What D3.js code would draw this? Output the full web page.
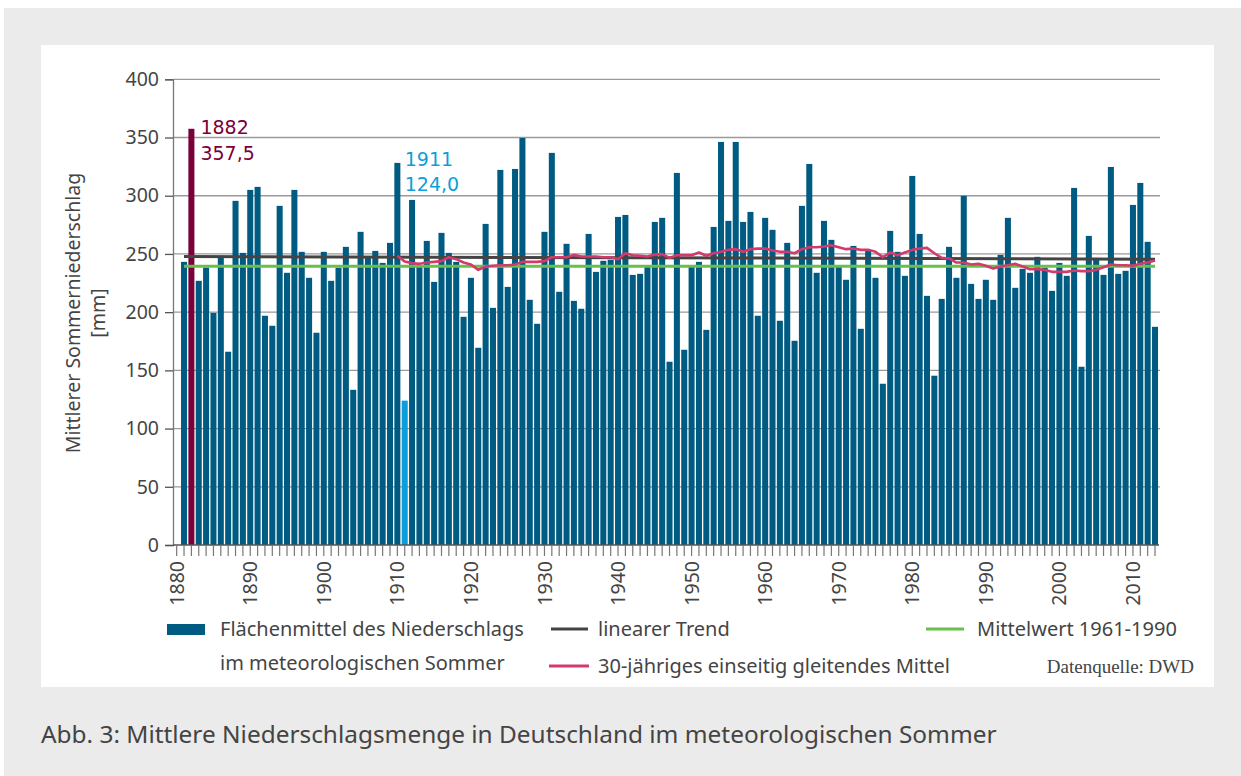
<!DOCTYPE html>
<html><head><meta charset="utf-8">
<script src="https://cdn.jsdelivr.net/npm/d3@7"></script>
<style>
html,body{margin:0;padding:0;background:#fff;}
svg{display:block;}
</style></head>
<body>
<svg id="chart" width="1241" height="776"></svg>
<script>
// ---- Data ----
const firstYear = 1881;
const precip = [
243.2,357.5,226.9,238.3,199.4,246.9,166.0,295.6,250.9,305.0,
307.6,196.9,188.3,291.3,233.8,305.0,251.8,229.5,182.3,251.8,
226.9,238.1,256.1,133.3,269.0,246.6,252.6,242.3,259.5,328.2,
124.0,296.4,240.0,261.2,226.0,268.1,250.9,243.2,196.0,229.5,
169.4,275.8,203.7,322.2,221.7,323.0,349.6,210.6,190.0,269.0,
336.8,217.5,258.7,209.7,202.9,267.2,234.6,244.1,245.0,281.8,
283.5,232.0,232.9,238.9,277.5,281.0,157.4,319.6,167.7,240.0,
243.2,184.8,273.2,346.2,278.4,346.2,277.5,286.1,196.9,281.0,
270.7,192.6,259.5,175.4,291.3,327.3,233.8,278.4,262.1,240.0,
227.8,256.9,185.7,252.6,229.5,138.5,269.8,251.8,231.2,317.0,
267.2,214.0,145.4,211.4,256.1,229.5,299.9,224.3,211.4,227.8,
210.6,249.2,281.0,220.9,237.2,233.8,247.5,238.1,218.3,242.3,
231.2,306.7,153.1,265.5,246.6,232.0,324.7,232.9,235.5,292.1,
311.0,260.4,187.4
];
const maFirstYear = 1910;
const movingAvg = [
248.4,243.5,242.1,241.5,242.6,243.2,243.8,247.2,245.5,242.6,
240.9,236.3,239.2,239.8,240.3,240.3,240.9,243.2,243.2,243.2,
243.8,247.2,247.2,247.2,249.2,247.8,247.8,247.8,247.2,247.2,
245.5,250.6,248.9,248.4,247.8,249.5,249.8,246.6,248.9,248.9,
248.9,251.2,248.4,250.6,251.8,253.5,254.1,251.8,254.1,254.6,
254.6,252.9,251.8,251.8,250.6,254.1,255.8,255.8,256.4,257.5,
255.8,254.1,254.6,253.5,253.5,251.8,247.2,251.2,248.9,251.2,
253.5,254.6,255.2,250.6,246.6,246.1,242.6,242.6,240.9,241.5,
239.8,237.5,239.2,240.3,241.5,239.2,236.9,236.9,236.3,234.6,
234.6,234.6,235.8,235.2,235.2,236.3,238.6,240.9,240.3,240.3,
239.8,241.5,242.6,244.3
];
const trendYears = [1881, 2013];
const trendValues = [247.8, 245.5];
const meanValue = 239.5;
const yTicks = [0,50,100,150,200,250,300,350,400];
const highlightMax = {year:1882, label:"1882", value:"357,5"};
const highlightMin = {year:1911, label:"1911", value:"124,0"};
const yTitle = ["Mittlerer Sommerniederschlag", "[mm]"];
const legendBars = ["Flächenmittel des Niederschlags", "im meteorologischen Sommer"];
const legendTrend = "linearer Trend";
const legendMA = "30-jähriges einseitig gleitendes Mittel";
const legendMean = "Mittelwert 1961-1990";
const sourceText = "Datenquelle: DWD";
const caption = "Abb. 3: Mittlere Niederschlagsmenge in Deutschland im meteorologischen Sommer";

// ---- Drawing ----
const FONT = "'Noto Sans', 'Open Sans', sans-serif";
const C = {bar:"#005b82", max:"#7a0039", min:"#0a9fdb", trend:"#444444", mean:"#6abf4b", ma:"#d33a6c", text:"#444444", grid:"#9a9a9a"};
const svg = d3.select("#chart");

svg.append("rect").attr("x",4).attr("y",8).attr("width",1237).attr("height",768).attr("fill","#ebebeb");
svg.append("rect").attr("x",41).attr("y",45).attr("width",1173).attr("height",642).attr("fill","#ffffff");

const years = d3.range(1880, firstYear + precip.length);
const data = precip.map((v,i)=>({year:firstYear+i, value:v}));

const x = d3.scaleBand().domain(years).range([173, 1158.7]).paddingInner(0.18).paddingOuter(0.09);
const y = d3.scaleLinear().domain([0,400]).range([545, 79.3]);
const cx = yr => x(yr) + x.bandwidth()/2;

// gridlines
svg.append("g").selectAll("line").data(yTicks.filter(t=>t>0)).join("line")
  .attr("x1",173).attr("x2",1160).attr("y1",d=>y(d)).attr("y2",d=>y(d))
  .attr("stroke",C.grid).attr("stroke-width",1.3);

// y axis
const yAxis = d3.axisLeft(y).tickValues(yTicks).tickSize(8).tickPadding(6).tickFormat(d3.format("d"));
const gy = svg.append("g").attr("transform","translate(173,0)").call(yAxis);
gy.select(".domain").attr("stroke","#777").attr("stroke-width",1.3);
gy.selectAll(".tick line").attr("stroke","#555").attr("stroke-width",1.3);
gy.selectAll("text").attr("font-family",FONT).attr("font-size",19.5).attr("fill",C.text);

// bars
svg.append("g").selectAll("rect").data(data).join("rect")
  .attr("x",d=>x(d.year)).attr("width",x.bandwidth())
  .attr("y",d=>y(d.value)).attr("height",d=>y(0)-y(d.value))
  .attr("fill",d=>d.year===highlightMax.year?C.max:(d.year===highlightMin.year?C.min:C.bar));

// x axis
const xAxis = d3.axisBottom(x).tickSize(11).tickFormat("");
const gx = svg.append("g").attr("transform","translate(0,545)").call(xAxis);
gx.select(".domain").attr("d","M173,0H1159").attr("stroke","#555").attr("stroke-width",1.3);
gx.selectAll(".tick line").attr("stroke","#777").attr("stroke-width",1.2);
svg.append("g").selectAll("text").data(years.filter(d=>d%10===0)).join("text")
  .attr("transform",d=>`translate(${cx(d)},561) rotate(-90)`)
  .attr("text-anchor","end").attr("dy","0.36em")
  .attr("font-family",FONT).attr("font-size",19.5).attr("fill",C.text)
  .text(d=>d);

// mean line
svg.append("line").attr("x1",cx(trendYears[0])).attr("x2",cx(trendYears[1]))
  .attr("y1",y(meanValue)).attr("y2",y(meanValue))
  .attr("stroke",C.mean).attr("stroke-width",3);
// trend line
svg.append("line").attr("x1",cx(trendYears[0])).attr("x2",cx(trendYears[1]))
  .attr("y1",y(trendValues[0])).attr("y2",y(trendValues[1]))
  .attr("stroke",C.trend).attr("stroke-width",3);
// moving average
const maData = movingAvg.map((v,i)=>({year:maFirstYear+i, value:v}));
svg.append("path").datum(maData)
  .attr("d", d3.line().x(d=>cx(d.year)).y(d=>y(d.value)))
  .attr("fill","none").attr("stroke",C.ma).attr("stroke-width",2.6).attr("stroke-linejoin","round");

// annotations
const AFONT = "'DejaVu Sans', sans-serif";
const ann = (h,col,xx,y1,y2)=>{
  svg.append("text").attr("x",xx).attr("y",y1).attr("font-family",AFONT).attr("font-size",19).attr("fill",col).text(h.label);
  svg.append("text").attr("x",xx).attr("y",y2).attr("font-family",AFONT).attr("font-size",19).attr("fill",col).text(h.value);
};
ann(highlightMax, C.max, x(highlightMax.year) + x.bandwidth() + 6, 134, 160);
ann(highlightMin, C.min, cx(highlightMin.year), 166, 191);

// y title
const yt = svg.append("text").attr("transform","translate(73,313) rotate(-90)")
  .attr("text-anchor","middle").attr("font-family",FONT).attr("font-size",19.5).attr("fill",C.text);
yt.append("tspan").attr("x",0).attr("dy","0.35em").text(yTitle[0]);
yt.append("tspan").attr("x",0).attr("dy","1.3em").text(yTitle[1]);

// legend
const lg = svg.append("g").attr("font-family",FONT).attr("font-size",20).attr("fill",C.text);
lg.append("rect").attr("x",167).attr("y",624).attr("width",38).attr("height",11).attr("fill",C.bar);
lg.append("text").attr("x",220).attr("y",636).text(legendBars[0]);
lg.append("text").attr("x",220).attr("y",670).text(legendBars[1]);
lg.append("line").attr("x1",551).attr("x2",588).attr("y1",629).attr("y2",629).attr("stroke",C.trend).attr("stroke-width",3);
lg.append("text").attr("x",598).attr("y",636).text(legendTrend);
lg.append("line").attr("x1",549).attr("x2",589).attr("y1",666).attr("y2",666).attr("stroke",C.ma).attr("stroke-width",3);
lg.append("text").attr("x",598).attr("y",673).text(legendMA);
lg.append("line").attr("x1",926).attr("x2",964).attr("y1",629).attr("y2",629).attr("stroke",C.mean).attr("stroke-width",3);
lg.append("text").attr("x",977).attr("y",636).text(legendMean);
svg.append("text").attr("x",1194).attr("y",673).attr("text-anchor","end")
  .attr("font-family","'Liberation Serif', 'DejaVu Serif', serif").attr("font-size",19).attr("fill",C.text).text(sourceText);

// caption
svg.append("text").attr("x",41).attr("y",743).attr("font-family",FONT).attr("font-size",24.4).attr("fill",C.text).text(caption);
</script>
</body></html>
